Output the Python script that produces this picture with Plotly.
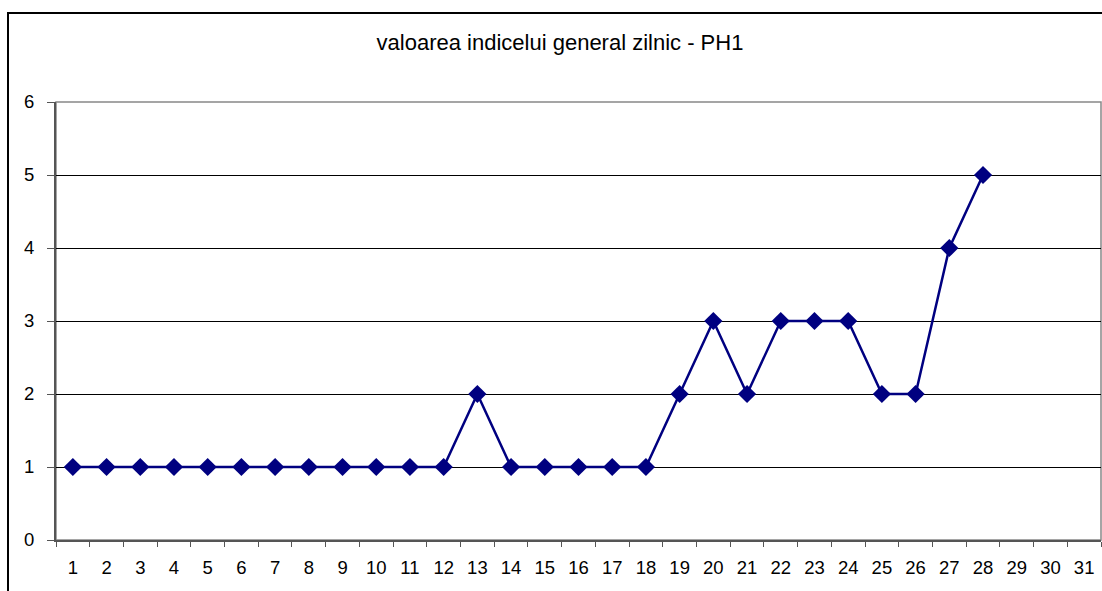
import plotly.graph_objects as go

days = [str(d) for d in range(1, 32)]
values = [1, 1, 1, 1, 1, 1, 1, 1, 1, 1, 1, 1, 2, 1, 1, 1, 1, 1, 2, 3, 2, 3, 3, 3, 2, 2, 4, 5]
y_ticks = [0, 1, 2, 3, 4, 5, 6]
title_text = "valoarea indicelui general zilnic - PH1"

W, H = 1102, 591
L, R, T, B = 56, 1101, 102, 540

fig = go.Figure()
fig.add_trace(go.Scatter(
    x=days[:len(values)], y=values, mode="lines+markers",
    line=dict(color="#000080", width=2.5),
    marker=dict(symbol="diamond", size=14, color="#000080"),
    showlegend=False, cliponaxis=False,
))

fig.update_layout(
    width=W, height=H,
    margin=dict(l=L, r=W - R, t=T, b=H - B),
    paper_bgcolor="white", plot_bgcolor="white",
    font=dict(family="Liberation Sans, Arial, sans-serif", size=18, color="black"),
    title=dict(text=title_text, x=560 / W, xanchor="center", y=1 - 42 / H, yanchor="middle",
               font=dict(size=22, color="black")),
    xaxis=dict(type="category", categoryorder="array", categoryarray=days,
               range=[-0.5, 30.5], tickson="boundaries", ticks="outside", ticklen=5,
               tickcolor="#555", showgrid=False, showline=True, linecolor="#555", linewidth=2,
               zeroline=False, tickfont=dict(size=18.5), ticklabelstandoff=10, fixedrange=True),
    yaxis=dict(range=[0, 6], tickvals=y_ticks, ticks="outside", ticklen=7, tickcolor="#555",
               showgrid=True, gridcolor="black", gridwidth=1, showline=True, linecolor="#555",
               linewidth=2, zeroline=False, tickfont=dict(size=18.5), ticklabelstandoff=9,
               fixedrange=True),
)

# outer chart frame (extends beyond the visible window at right and bottom)
fig.add_shape(type="rect", xref="paper", yref="paper",
              x0=(8 - L) / (R - L), x1=(1115 - L) / (R - L),
              y0=(B - 600) / (B - T), y1=(B - 13) / (B - T),
              line=dict(color="black", width=2), fillcolor="rgba(0,0,0,0)", layer="below")
# plot area border (top/right gray)
fig.add_shape(type="rect", xref="paper", yref="paper", x0=0, x1=1, y0=0, y1=1,
              line=dict(color="#888", width=1.5), fillcolor="rgba(0,0,0,0)", layer="below")

fig.write_html("out.html", config={"displayModeBar": False},
               post_script="document.body.style.margin='0';document.body.style.overflow='hidden';")
